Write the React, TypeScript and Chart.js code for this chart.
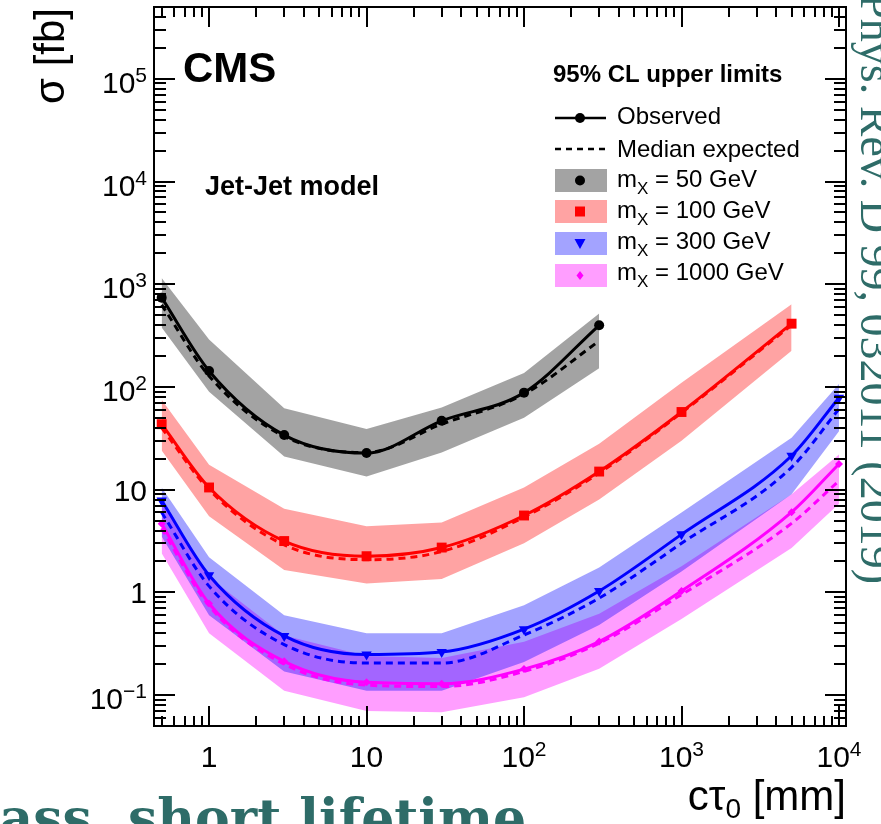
import React, { useEffect, useRef } from 'react';
import { Chart, registerables } from 'chart.js';

Chart.register(...registerables);

// ---------------- data ----------------
const ctau50 = [0.5, 1, 3, 10, 30, 100, 300];
const obs50 = [740, 143, 34, 22.7, 46.8, 88, 398];
const exp50 = [630, 128, 33, 23, 43.5, 85, 280];
const up50 = [1150, 290, 62, 39, 63, 137, 520];
const lo50 = [380, 90, 21, 13.4, 23, 50, 152];

const ctau100 = [0.5, 1, 3, 10, 30, 100, 300, 1000, 5000];
const obs100 = [43.4, 10.5, 3.16, 2.25, 2.73, 5.6, 15.0, 57, 413];
const exp100 = [40, 10, 2.9, 2.08, 2.5, 5.4, 14.5, 56, 400];
const up100 = [75, 17.5, 6.5, 4.4, 4.8, 10.5, 28, 110, 640];
const lo100 = [24, 5.5, 1.65, 1.22, 1.35, 3.0, 8.0, 30, 225];

const ctau300 = [0.5, 1, 3, 10, 30, 100, 300, 1000, 5000, 10000];
const obs300 = [7.84, 1.47, 0.377, 0.248, 0.262, 0.438, 1.03, 3.67, 21.4, 78.6];
const exp300 = [6.0, 1.15, 0.31, 0.205, 0.205, 0.385, 0.88, 3.0, 16.5, 61];
const up300 = [10.5, 2.2, 0.6, 0.4, 0.4, 0.75, 1.75, 6.0, 32, 107];
const lo300 = [3.5, 0.6, 0.17, 0.11, 0.11, 0.21, 0.48, 1.6, 9, 37];

const ctau1000 = [0.5, 1, 3, 10, 30, 100, 300, 1000, 5000, 10000];
const obs1000 = [4.66, 0.78, 0.213, 0.133, 0.129, 0.179, 0.332, 1.03, 6.04, 17.8];
const exp1000 = [4.2, 0.74, 0.2, 0.125, 0.121, 0.17, 0.32, 0.95, 4.7, 12.2];
const up1000 = [7.5, 1.4, 0.38, 0.24, 0.23, 0.33, 0.62, 1.8, 9, 22];
const lo1000 = [2.4, 0.4, 0.11, 0.07, 0.068, 0.095, 0.18, 0.55, 2.7, 7.3];

const massValues = ['50', '100', '300', '1000'];
const seriesColors = ['#000000', '#ff0000', '#0000ff', '#ff00ff'];
const bandColors = ['rgba(0,0,0,0.36)', 'rgba(255,0,0,0.36)', 'rgba(0,0,255,0.36)', 'rgba(255,0,255,0.38)'];

const xTickValues = [1, 10, 100, 1000, 10000];
const xTickBase = ['1', '10', '10', '10', '10'];
const xTickExp = ['', '', '2', '3', '4'];

const yTickValues = [0.1, 1, 10, 100, 1000, 10000, 100000];
const yTickBase = ['10', '1', '10', '10', '10', '10', '10'];
const yTickExp = ['\u22121', '', '', '2', '3', '4', '5'];

const X_MIN = 0.447;
const X_MAX = 11080;
const Y_MIN = 0.05;
const Y_MAX = 5e5;

const legendTitle = '95% CL upper limits';
const legendObserved = 'Observed';
const legendExpected = 'Median expected';
const cmsLabel = 'CMS';
const modelLabel = 'Jet-Jet model';
const journalRef = 'Phys. Rev. D 99, 032011 (2019)';
const slideText = 'mass, short lifetime';
const TEAL = '#2e6c68';

const SANS = '"Liberation Sans", Arial, Helvetica, sans-serif';

// ---------------- helpers ----------------
const pts = (xs: number[], ys: number[]) => xs.map((x, i) => ({ x, y: ys[i] }));

function drawSup(
  ctx: CanvasRenderingContext2D,
  base: string,
  exp: string,
  x: number,
  y: number,
  align: 'left' | 'center' | 'right',
  mainFont: string,
  supFont: string,
  raise: number
) {
  ctx.font = mainFont;
  const wb = ctx.measureText(base).width;
  ctx.font = supFont;
  const we = exp ? ctx.measureText(exp).width : 0;
  const total = wb + we;
  const x0 = align === 'center' ? x - total / 2 : align === 'right' ? x - total : x;
  ctx.textAlign = 'left';
  ctx.textBaseline = 'alphabetic';
  ctx.font = mainFont;
  ctx.fillText(base, x0, y);
  if (exp) {
    ctx.font = supFont;
    ctx.fillText(exp, x0 + wb, y - raise);
  }
}

function drawMarker(ctx: CanvasRenderingContext2D, kind: number, x: number, y: number, color: string) {
  ctx.fillStyle = color;
  ctx.beginPath();
  if (kind === 0) {
    ctx.arc(x, y, 5, 0, Math.PI * 2);
  } else if (kind === 1) {
    ctx.rect(x - 5, y - 5, 10, 10);
  } else if (kind === 2) {
    ctx.moveTo(x - 5.5, y - 4.5);
    ctx.lineTo(x + 5.5, y - 4.5);
    ctx.lineTo(x, y + 5.5);
    ctx.closePath();
  } else {
    ctx.moveTo(x, y - 4.5);
    ctx.lineTo(x + 3.5, y);
    ctx.lineTo(x, y + 4.5);
    ctx.lineTo(x - 3.5, y);
    ctx.closePath();
  }
  ctx.fill();
}

export default function App() {
  const ref = useRef<HTMLCanvasElement>(null);

  useEffect(() => {
    document.body.style.margin = '0';
    const canvas = ref.current;
    if (!canvas) return;

    const series = [
      { xs: ctau50, obs: obs50, exp: exp50, up: up50, lo: lo50, style: 'circle', radius: 5, rot: 0 },
      { xs: ctau100, obs: obs100, exp: exp100, up: up100, lo: lo100, style: 'rect', radius: 7, rot: 0 },
      { xs: ctau300, obs: obs300, exp: exp300, up: up300, lo: lo300, style: 'triangle', radius: 6, rot: 180 },
      { xs: ctau1000, obs: obs1000, exp: exp1000, up: up1000, lo: lo1000, style: 'rectRot', radius: 4, rot: 0 },
    ];

    const datasets: any[] = [];
    series.forEach((s, i) => {
      const col = seriesColors[i];
      datasets.push({
        label: 'band-up-' + i,
        data: pts(s.xs, s.up),
        borderWidth: 0,
        borderColor: 'rgba(0,0,0,0)',
        pointRadius: 0,
        tension: 0,
        fill: '+1',
        backgroundColor: bandColors[i],
        order: 10,
      });
      datasets.push({
        label: 'band-lo-' + i,
        data: pts(s.xs, s.lo),
        borderWidth: 0,
        borderColor: 'rgba(0,0,0,0)',
        pointRadius: 0,
        tension: 0,
        fill: false,
        order: 10,
      });
      datasets.push({
        label: 'expected-' + i,
        data: pts(s.xs, s.exp),
        borderColor: col,
        borderWidth: 3,
        borderDash: [7, 5],
        pointRadius: 0,
        fill: false,
        cubicInterpolationMode: 'monotone',
        order: 2,
      });
      datasets.push({
        label: 'observed-' + i,
        data: pts(s.xs, s.obs),
        borderColor: col,
        backgroundColor: col,
        borderWidth: 3,
        pointRadius: s.radius,
        pointStyle: s.style,
        pointRotation: s.rot,
        pointBorderWidth: 0,
        fill: false,
        cubicInterpolationMode: 'monotone',
        order: 1,
      });
    });

    const framePlugin = {
      id: 'rootFrame',
      afterDraw(chart: any) {
        const ctx: CanvasRenderingContext2D = chart.ctx;
        const a = chart.chartArea;
        const xs = chart.scales.x;
        const ys = chart.scales.y;
        ctx.save();

        // frame
        ctx.strokeStyle = '#000';
        ctx.lineWidth = 2;
        ctx.strokeRect(a.left, a.top, a.right - a.left, a.bottom - a.top);

        // x ticks (bottom and top, inward)
        ctx.beginPath();
        for (let e = -1; e <= 4; e++) {
          for (let k = 1; k <= 9; k++) {
            const v = k * Math.pow(10, e);
            if (v < xs.min || v > xs.max) continue;
            const px = Math.round(xs.getPixelForValue(v));
            const len = k === 1 ? 20 : 10;
            ctx.moveTo(px, a.bottom);
            ctx.lineTo(px, a.bottom - len);
            ctx.moveTo(px, a.top);
            ctx.lineTo(px, a.top + len);
          }
        }
        // y ticks (left and right, inward)
        for (let e = -2; e <= 5; e++) {
          for (let k = 1; k <= 9; k++) {
            const v = k * Math.pow(10, e);
            if (v < ys.min * 1.0001 || v > ys.max * 0.9999) continue;
            const py = Math.round(ys.getPixelForValue(v));
            const len = k === 1 ? 21 : 12;
            ctx.moveTo(a.left, py);
            ctx.lineTo(a.left + len, py);
            ctx.moveTo(a.right, py);
            ctx.lineTo(a.right - len, py);
          }
        }
        ctx.stroke();

        // tick labels
        ctx.fillStyle = '#000';
        const mainF = `30px ${SANS}`;
        const supF = `21px ${SANS}`;
        xTickValues.forEach((v, i) => {
          const px = xs.getPixelForValue(v);
          drawSup(ctx, xTickBase[i], xTickExp[i], px, 767, 'center', mainF, supF, 11);
        });
        yTickValues.forEach((v, i) => {
          const py = ys.getPixelForValue(v);
          const off = yTickExp[i] ? 14 : 11;
          drawSup(ctx, yTickBase[i], yTickExp[i], 147, py + off, 'right', mainF, supF, 11);
        });

        // x title: c tau_0 [mm], right aligned to frame
        {
          const f1 = `42px ${SANS}`;
          const fs = `28px ${SANS}`;
          ctx.font = f1;
          const w1 = ctx.measureText('c\u03c4').width;
          const w3 = ctx.measureText(' [mm]').width;
          ctx.font = fs;
          const w2 = ctx.measureText('0').width;
          const x0 = a.right - (w1 + w2 + w3);
          ctx.textAlign = 'left';
          ctx.textBaseline = 'alphabetic';
          ctx.font = f1;
          ctx.fillText('c\u03c4', x0, 810);
          ctx.font = fs;
          ctx.fillText('0', x0 + w1, 818);
          ctx.font = f1;
          ctx.fillText(' [mm]', x0 + w1 + w2, 810);
        }
        // y title: sigma [fb], rotated, aligned to top
        ctx.save();
        ctx.translate(64, a.top + 1);
        ctx.rotate(-Math.PI / 2);
        ctx.textAlign = 'right';
        ctx.font = `42px ${SANS}`;
        ctx.fillText('\u03c3 [fb]', 0, 0);
        ctx.restore();

        // CMS and model labels
        ctx.textAlign = 'left';
        ctx.font = `bold 42px ${SANS}`;
        ctx.fillText(cmsLabel, 183, 82);
        ctx.font = `bold 27px ${SANS}`;
        ctx.fillText(modelLabel, 205, 195);

        // legend
        ctx.font = `bold 24px ${SANS}`;
        ctx.fillText(legendTitle, 553, 82);
        ctx.font = `24px ${SANS}`;
        ctx.fillText(legendObserved, 617, 124);
        ctx.fillText(legendExpected, 617, 157);
        ctx.strokeStyle = '#000';
        ctx.lineWidth = 2.5;
        ctx.beginPath();
        ctx.moveTo(555, 118);
        ctx.lineTo(606, 118);
        ctx.stroke();
        drawMarker(ctx, 0, 580, 118, '#000');
        ctx.setLineDash([6, 5]);
        ctx.beginPath();
        ctx.moveTo(555, 149);
        ctx.lineTo(606, 149);
        ctx.stroke();
        ctx.setLineDash([]);

        const boxTops = [169, 200, 232, 264];
        const baselines = [187, 218, 249, 280];
        massValues.forEach((m, i) => {
          ctx.fillStyle = bandColors[i];
          ctx.fillRect(555, boxTops[i], 52, 23);
          drawMarker(ctx, i, 580, boxTops[i] + 11.5, seriesColors[i]);
          ctx.fillStyle = '#000';
          ctx.textAlign = 'left';
          ctx.font = `24px ${SANS}`;
          ctx.fillText('m', 617, baselines[i]);
          const wm = ctx.measureText('m').width;
          ctx.font = `17px ${SANS}`;
          ctx.fillText('X', 617 + wm, baselines[i] + 7);
          const wx = ctx.measureText('X').width;
          ctx.font = `24px ${SANS}`;
          ctx.fillText(' = ' + m + ' GeV', 617 + wm + wx, baselines[i]);
        });

        // slide texts around the figure
        ctx.fillStyle = TEAL;
        ctx.save();
        ctx.translate(861, 584);
        ctx.rotate(Math.PI / 2);
        ctx.textAlign = 'right';
        ctx.font = `46px "Liberation Serif", "DejaVu Serif", serif`;
        ctx.fillText(journalRef, 0, 0);
        ctx.restore();

        ctx.font = `bold 52px "DejaVu Serif", "Liberation Serif", serif`;
        ctx.textAlign = 'left';
        const pre = ctx.measureText('mass, ').width;
        ctx.fillText(slideText, 128 - pre, 836);

        ctx.restore();
      },
    };

    const chart = new Chart(canvas, {
      type: 'line',
      data: { datasets },
      options: {
        responsive: false,
        animation: false,
        devicePixelRatio: 1,
        events: [],
        layout: { padding: { left: 0, top: 7, right: 35, bottom: 0 }, autoPadding: false },
        plugins: {
          legend: { display: false },
          tooltip: { enabled: false },
          title: { display: false },
        },
        scales: {
          x: {
            type: 'logarithmic',
            min: X_MIN,
            max: X_MAX,
            grid: { display: false },
            border: { display: false },
            ticks: { display: false },
            afterFit: (s: any) => {
              s.height = 98;
            },
          },
          y: {
            type: 'logarithmic',
            min: Y_MIN,
            max: Y_MAX,
            grid: { display: false },
            border: { display: false },
            ticks: { display: false },
            afterFit: (s: any) => {
              s.width = 154;
            },
          },
        },
      } as any,
      plugins: [framePlugin],
    });

    return () => chart.destroy();
  }, []);

  return (
    <div style={{ position: 'absolute', left: 0, top: 0, width: 881, height: 824, background: '#fff' }}>
      <canvas ref={ref} width={881} height={824} style={{ width: 881, height: 824, display: 'block' }} />
    </div>
  );
}
